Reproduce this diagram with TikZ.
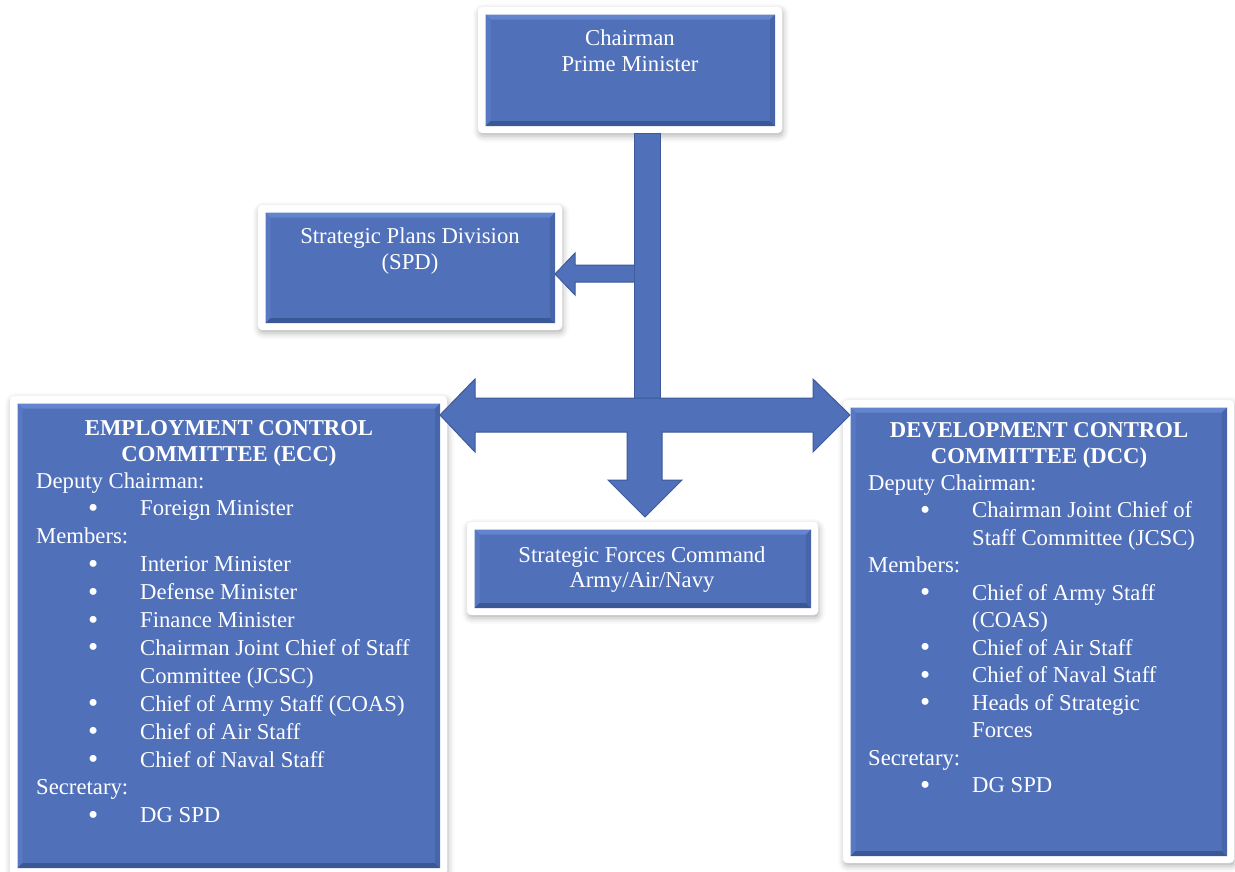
\documentclass[tikz,border=0pt]{standalone}
\usepackage{fontspec}
\setmainfont{Liberation Serif}
\usetikzlibrary{shadows.blur,calc}
\definecolor{boxblue}{HTML}{5070BA}
\definecolor{edgeblue}{HTML}{3C5A9A}
\definecolor{bevtop}{HTML}{6285CE}
\definecolor{bevleft}{HTML}{5878C3}
\definecolor{bevbot}{HTML}{3A5796}
\definecolor{bevright}{HTML}{4666A9}
\newcommand\bigbul{\raisebox{-1.5pt}{\fontsize{29}{29}\selectfont\textbullet}}
\newcommand\bul[1]{\makebox[104pt][l]{\hspace*{57pt}\makebox[0pt]{\bigbul}}#1}
\newcommand\cnt[1]{\hspace*{104pt}#1}
\newcommand\bevelbox[1]{%
  \path ([shift={(7.5pt,-7.5pt)}]#1.north west) coordinate (#1-p1)
        ([shift={(-7pt,7pt)}]#1.south east) coordinate (#1-p3)
        ([shift={(5pt,-5pt)}]#1-p1) coordinate (#1-q1)
        ([shift={(-5pt,5pt)}]#1-p3) coordinate (#1-q3);
  \fill[boxblue] (#1-p1) rectangle (#1-p3);
  \fill[bevtop] (#1-p1) -- (#1-p3 |- #1-p1) -- (#1-q3 |- #1-q1) -- (#1-q1) -- cycle;
  \fill[bevleft] (#1-p1) -- (#1-q1) -- (#1-q1 |- #1-q3) -- (#1-p1 |- #1-p3) -- cycle;
  \fill[bevbot] (#1-p1 |- #1-p3) -- (#1-p3) -- (#1-q3) -- (#1-q1 |- #1-q3) -- cycle;
  \fill[bevright] (#1-p3 |- #1-p1) -- (#1-p3) -- (#1-q3) -- (#1-q3 |- #1-q1) -- cycle;
}
\tikzset{
  frame/.style={rectangle, rounded corners=4pt, fill=white, inner sep=0pt, outer sep=0pt,
    blur shadow={shadow xshift=1pt, shadow yshift=-3pt, shadow blur radius=6pt, shadow opacity=30}},
  txt/.style={text=white, inner sep=0pt, font=\fontsize{22.7}{26}\selectfont},
  blockarrow/.style={fill=boxblue, draw=edgeblue, line width=1pt, line join=miter},
}
\begin{document}
\begin{tikzpicture}[x=1pt,y=-1pt]
\useasboundingbox (0,0) rectangle (1235,871);
% frames
\node[frame, minimum width=304pt, minimum height=126pt] (chair) at (630,70) {};
\node[frame, minimum width=304pt, minimum height=125pt] (spd) at (410,267.5) {};
\node[frame, minimum width=351pt, minimum height=93pt] (sfc) at (642.5,568.5) {};
\node[frame, minimum width=437pt, minimum height=479pt] (ecc) at (228.5,635.5) {};
\node[frame, minimum width=391pt, minimum height=463pt] (dcc) at (1038.5,631.5) {};
\bevelbox{chair}
\bevelbox{spd}
\bevelbox{sfc}
\bevelbox{ecc}
\bevelbox{dcc}
% connectors (block arrows)
\coordinate (hub) at (647,415);
\draw[blockarrow] (634,133) rectangle (660,398);
\draw[blockarrow] (634,265) -- (575,265) -- (575,253) -- (555,274) -- (575,295) -- (575,282) -- (634,282);
\draw[blockarrow] (440,415) -- (475,379) -- (475,398) -- (813,398) -- (813,379) -- (850,415)
  -- (813,452) -- (813,432) -- (662,432) -- (662,480) -- (682,480) -- (645,517)
  -- (608,480) -- (627,480) -- (627,432) -- (475,432) -- (475,452) -- cycle;
% texts
\node[txt, anchor=base] (chairT) at (630,45)
  {\begin{tabular}[t]{@{}c@{}}Chairman\\Prime Minister\end{tabular}};
\node[txt, anchor=base] (spdT) at (410,243)
  {\begin{tabular}[t]{@{}c@{}}Strategic Plans Division\\(SPD)\end{tabular}};
\node[txt, anchor=base, font=\fontsize{22.7}{25}\selectfont] (sfcT) at (642,562)
  {\begin{tabular}[t]{@{}c@{}}Strategic Forces Command\\Army/Air/Navy\end{tabular}};
\node[txt, anchor=base] (eccH) at (229,435)
  {\bfseries\begin{tabular}[t]{@{}c@{}}EMPLOYMENT CONTROL\\COMMITTEE (ECC)\end{tabular}};
\node[txt, anchor=base west, font=\fontsize{22.7}{27.9}\selectfont] (eccT) at (36,488)
  {\begin{tabular}[t]{@{}l@{}}
   Deputy Chairman:\\
   \bul{Foreign Minister}\\
   Members:\\
   \bul{Interior Minister}\\
   \bul{Defense Minister}\\
   \bul{Finance Minister}\\
   \bul{Chairman Joint Chief of Staff}\\
   \cnt{Committee (JCSC)}\\
   \bul{Chief of Army Staff (COAS)}\\
   \bul{Chief of Air Staff}\\
   \bul{Chief of Naval Staff}\\
   Secretary:\\
   \bul{DG SPD}
   \end{tabular}};
\node[txt, anchor=base] (dccH) at (1039,437)
  {\bfseries\begin{tabular}[t]{@{}c@{}}DEVELOPMENT CONTROL\\COMMITTEE (DCC)\end{tabular}};
\node[txt, anchor=base west, font=\fontsize{22.7}{27.5}\selectfont] (dccT) at (868,490)
  {\begin{tabular}[t]{@{}l@{}}
   Deputy Chairman:\\
   \bul{Chairman Joint Chief of}\\
   \cnt{Staff Committee (JCSC)}\\
   Members:\\
   \bul{Chief of Army Staff}\\
   \cnt{(COAS)}\\
   \bul{Chief of Air Staff}\\
   \bul{Chief of Naval Staff}\\
   \bul{Heads of Strategic}\\
   \cnt{Forces}\\
   Secretary:\\
   \bul{DG SPD}
   \end{tabular}};
\end{tikzpicture}
\end{document}
